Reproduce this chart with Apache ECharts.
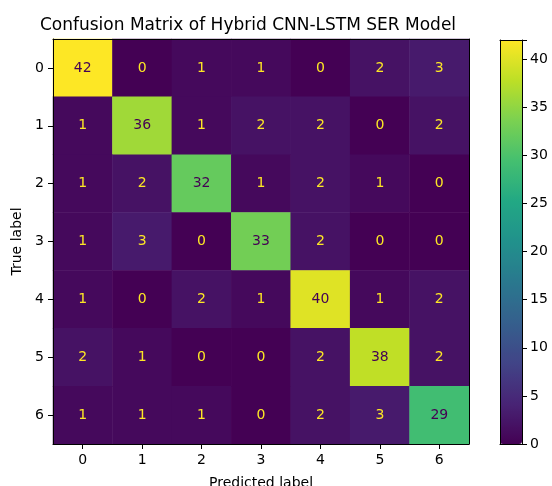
<!DOCTYPE html>
<html>
<head>
<meta charset="utf-8">
<script src="https://cdn.jsdelivr.net/npm/echarts@6/dist/echarts.min.js"></script>
<style>
  html, body { margin: 0; padding: 0; background: #fff; }
  #chart { width: 552px; height: 486px; }
</style>
</head>
<body>
<div id="chart"></div>
<script>
// labels and counts
var classLabels = ['0', '1', '2', '3', '4', '5', '6'];
var matrix = [
    [42, 0, 1, 1, 0, 2, 3],
    [1, 36, 1, 2, 2, 0, 2],
    [1, 2, 32, 1, 2, 1, 0],
    [1, 3, 0, 33, 2, 0, 0],
    [1, 0, 2, 1, 40, 1, 2],
    [2, 1, 0, 0, 2, 38, 2],
    [1, 1, 1, 0, 2, 3, 29]
];
var colorbarTicks = [0, 5, 10, 15, 20, 25, 30, 35, 40];

var viridis = ['#440154', '#482475', '#414487', '#355f8d', '#2a788e', '#21918c',
    '#22a884', '#44bf70', '#7ad151', '#bddf26', '#fde725'];

var vmin = 0, vmax = 0;
matrix.forEach(function (row) {
    row.forEach(function (v) { if (v > vmax) vmax = v; });
});
var thresh = (vmin + vmax) / 2;

// heatmap data: [col, row, value], text colour flips like matplotlib does
var cells = [];
for (var i = 0; i < matrix.length; i++) {
    for (var j = 0; j < matrix[i].length; j++) {
        var v = matrix[i][j];
        cells.push({
            value: [j, i, v],
            label: { color: v > thresh ? viridis[0] : viridis[viridis.length - 1] }
        });
    }
}

var font = 'DejaVu Sans';
var fs = 14;

// frame-only axis (no ticks, no labels)
function frameAxis(type, grid, pos, extra) {
    var a = {
        type: type, gridIndex: grid, position: pos, z: 10,
        axisLine: { show: true, onZero: false, lineStyle: { color: '#000', width: 1 } },
        axisTick: { show: false }, axisLabel: { show: false }, splitLine: { show: false }
    };
    for (var k in extra) a[k] = extra[k];
    return a;
}

var chart = echarts.init(document.getElementById('chart'));
chart.setOption({
    animation: false,
    backgroundColor: '#fff',
    textStyle: { fontFamily: font },
    title: {
        text: 'Confusion Matrix of Hybrid CNN-LSTM SER Model',
        left: 243, top: 12, textAlign: 'center',
        textStyle: { fontFamily: font, fontSize: 17, fontWeight: 'normal', color: '#000' }
    },
    grid: [
        { left: 53, top: 39, width: 416, height: 405, outerBoundsMode: 'none' },
        { left: 500, top: 40, width: 22, height: 404, outerBoundsMode: 'none' }
    ],
    xAxis: [
        {
            type: 'category', data: classLabels, gridIndex: 0, position: 'bottom', z: 10,
            name: 'Predicted label', nameLocation: 'middle', nameGap: 32,
            nameTextStyle: { fontSize: fs, color: '#000', verticalAlign: 'top' },
            axisLine: { show: true, onZero: false, lineStyle: { color: '#000' } },
            axisTick: { show: true, alignWithLabel: true, length: 5, lineStyle: { color: '#000' } },
            axisLabel: { show: true, fontSize: fs, color: '#000', margin: 9 },
            splitLine: { show: false }
        },
        frameAxis('category', 0, 'top', { data: classLabels }),
        frameAxis('category', 1, 'bottom', { data: [''] }),
        frameAxis('category', 1, 'top', { data: [''] })
    ],
    yAxis: [
        {
            type: 'category', data: classLabels, gridIndex: 0, inverse: true, position: 'left', z: 10,
            name: 'True label', nameLocation: 'middle', nameGap: 29, nameRotate: 90,
            nameTextStyle: { fontSize: fs, color: '#000' },
            axisLine: { show: true, onZero: false, lineStyle: { color: '#000' } },
            axisTick: { show: true, alignWithLabel: true, length: 5, lineStyle: { color: '#000' } },
            axisLabel: { show: true, fontSize: fs, color: '#000', margin: 9 },
            splitLine: { show: false }
        },
        frameAxis('category', 0, 'right', { data: classLabels, inverse: true }),
        {
            type: 'value', gridIndex: 1, position: 'right', min: vmin, max: vmax,
            interval: 5, z: 10,
            axisLine: { show: true, onZero: false, lineStyle: { color: '#000' } },
            axisTick: { show: true, length: 5, lineStyle: { color: '#000' } },
            axisLabel: {
                show: true, fontSize: fs, color: '#000', margin: 8,
                formatter: function (v) { return colorbarTicks.indexOf(v) >= 0 ? String(v) : ''; }
            },
            splitLine: { show: false }
        },
        frameAxis('value', 1, 'left', { min: vmin, max: vmax })
    ],
    visualMap: {
        type: 'continuous', min: vmin, max: vmax, seriesIndex: 0, z: 1,
        orient: 'vertical', left: 500, top: 40, itemWidth: 22, itemHeight: 404,
        padding: 0, calculable: false, hoverLink: false, realtime: false,
        text: null, showLabel: false,
        inRange: { color: viridis }
    },
    series: [
        {
            type: 'heatmap', xAxisIndex: 0, yAxisIndex: 0, data: cells, z: 2,
            label: { show: true, fontSize: fs, fontFamily: font },
            itemStyle: { borderWidth: 0 },
            emphasis: { disabled: true }
        },
        {
            type: 'line', xAxisIndex: 2, yAxisIndex: 2, data: [], silent: true
        }
    ]
});
</script>
</body>
</html>
